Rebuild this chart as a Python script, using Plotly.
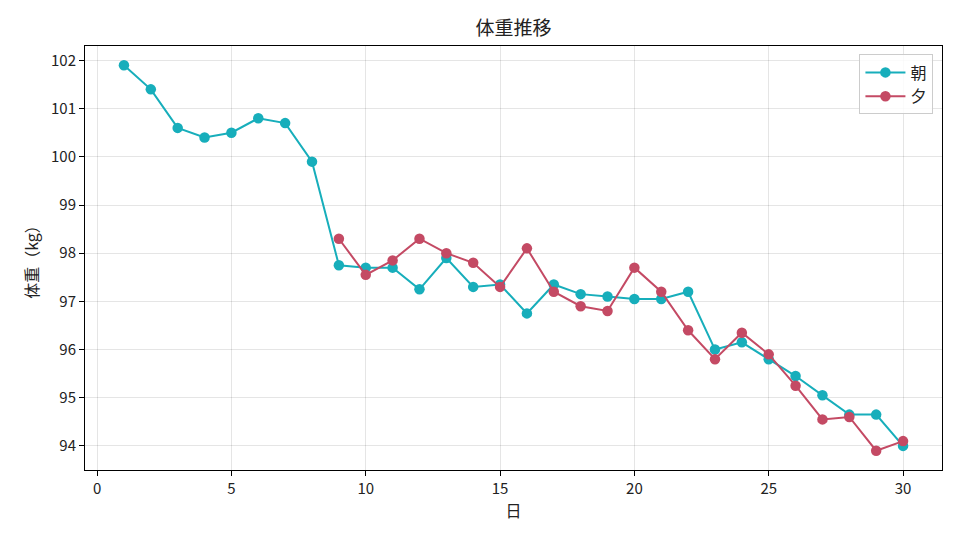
import plotly.graph_objects as go

days_morning = list(range(1, 31))
morning = [101.9, 101.4, 100.6, 100.4, 100.5, 100.8, 100.7, 99.9, 97.75, 97.7,
           97.7, 97.25, 97.9, 97.3, 97.35, 96.75, 97.35, 97.15, 97.1, 97.05,
           97.05, 97.2, 96.0, 96.15, 95.8, 95.45, 95.05, 94.65, 94.65, 94.0]
days_evening = list(range(9, 31))
evening = [98.3, 97.55, 97.85, 98.3, 98.0, 97.8, 97.3, 98.1, 97.2, 96.9,
           96.8, 97.7, 97.2, 96.4, 95.8, 96.35, 95.9, 95.25, 94.55, 94.6,
           93.9, 94.1]

x_ticks = [0, 5, 10, 15, 20, 25, 30]
y_ticks = [94, 95, 96, 97, 98, 99, 100, 101, 102]

FONT = "Noto Sans CJK JP"
teal = "#17aebb"
red = "#c44a64"

fig = go.Figure()
fig.add_trace(go.Scatter(x=days_morning, y=morning, mode="lines+markers", name="朝",
                         line=dict(color=teal, width=2), marker=dict(color=teal, size=10.5)))
fig.add_trace(go.Scatter(x=days_evening, y=evening, mode="lines+markers", name="夕",
                         line=dict(color=red, width=2), marker=dict(color=red, size=10.5)))

axis_common = dict(showline=True, linecolor="black", linewidth=1, mirror=True,
                   ticks="outside", ticklen=5, tickcolor="black",
                   showgrid=True, gridcolor="rgba(0,0,0,0.1)", gridwidth=1,
                   zeroline=False, tickfont=dict(family=FONT, size=15, color="#222"))

fig.update_layout(
    width=960, height=540,
    margin=dict(l=85, r=18, t=46, b=70),
    paper_bgcolor="white", plot_bgcolor="white",
    font=dict(family=FONT, size=15, color="#222"),
    title=dict(text="体重推移", x=0.535, xanchor="center", y=0.948, yanchor="middle",
               font=dict(family=FONT, size=19, color="#222")),
    xaxis=dict(range=[-0.45, 31.45], tickvals=x_ticks,
               title=dict(text="日", font=dict(family=FONT, size=16), standoff=7),
               **axis_common),
    yaxis=dict(range=[93.5, 102.3], tickvals=y_ticks,
               title=dict(text="体重（kg）", font=dict(family=FONT, size=16), standoff=8),
               **axis_common),
    legend=dict(x=0.99, y=0.98, xanchor="right", yanchor="top",
                bordercolor="#ccc", borderwidth=1, bgcolor="rgba(255,255,255,0.85)",
                itemwidth=40, tracegroupgap=0,
                font=dict(family=FONT, size=16)),
    showlegend=True,
)

fig.write_html("out.html")
